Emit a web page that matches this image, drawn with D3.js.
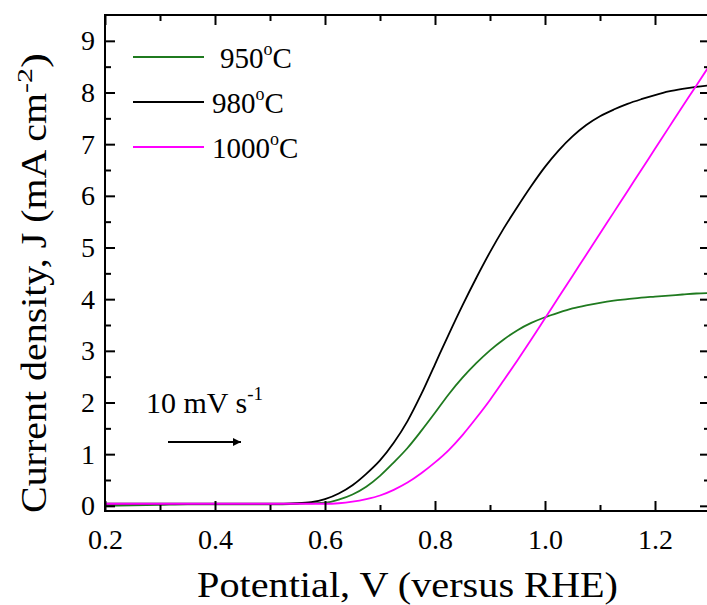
<!DOCTYPE html>
<html><head><meta charset="utf-8">
<script src="https://cdn.jsdelivr.net/npm/d3@7/dist/d3.min.js"></script>
</head>
<body style="margin:0">
<svg id="c" width="707" height="605" font-family="Liberation Serif"></svg>
<script>
// Potential (V vs RHE)
const potential = [0.2,0.25,0.3,0.35,0.4,0.45,0.5,0.55,0.575,0.6,0.625,0.65,0.675,0.7,0.725,0.75,0.775,0.8,0.825,0.85,0.875,0.9,0.925,0.95,0.975,1.0,1.025,1.05,1.075,1.1,1.125,1.15,1.175,1.2,1.225,1.25,1.275,1.3];
// Current density J (mA cm^-2)
const j950  = [0.00,0.01,0.02,0.03,0.03,0.03,0.03,0.04,0.05,0.06,0.12,0.22,0.37,0.58,0.84,1.12,1.45,1.80,2.16,2.48,2.76,3.01,3.22,3.40,3.54,3.65,3.74,3.82,3.88,3.93,3.97,4.00,4.03,4.05,4.07,4.09,4.11,4.12];
const j980  = [0.04,0.04,0.04,0.04,0.04,0.04,0.04,0.05,0.07,0.13,0.24,0.40,0.62,0.88,1.22,1.64,2.16,2.74,3.32,3.88,4.41,4.91,5.37,5.79,6.19,6.56,6.88,7.15,7.37,7.54,7.67,7.78,7.87,7.95,8.02,8.07,8.11,8.14];
const j1000 = [0.04,0.04,0.04,0.04,0.04,0.04,0.04,0.04,0.04,0.04,0.05,0.08,0.13,0.20,0.31,0.45,0.63,0.84,1.08,1.37,1.70,2.05,2.43,2.82,3.22,3.63,4.04,4.45,4.86,5.27,5.68,6.09,6.50,6.91,7.32,7.73,8.13,8.54];
const seriesNames = ["950","980","1000"];
const seriesColors = ["#1f7a1f","#000000","#ff00ff"];
const xMajor = [0.2,0.4,0.6,0.8,1.0,1.2];
const xMinor = [0.3,0.5,0.7,0.9,1.1];
const yMajor = [0,1,2,3,4,5,6,7,8,9];
const yMinor = [0.5,1.5,2.5,3.5,4.5,5.5,6.5,7.5,8.5];

const FAM = "Liberation Serif";
const svg = d3.select("#c");
const L=105, R=710, T=15, B=511;
const x = d3.scaleLinear().domain([0.2,1.3]).range([L,R]);
const y = d3.scaleLinear().domain([-0.1,9.5]).range([B,T]);

const series = [j950,j980,j1000];
const line = d3.line().x(d=>x(d[0])).y(d=>y(d[1])).curve(d3.curveMonotoneX);
series.forEach((s,i)=>{
  svg.append("path").datum(potential.map((v,k)=>[v,s[k]]))
    .attr("d",line).attr("fill","none").attr("stroke",seriesColors[i]).attr("stroke-width",1.8);
});

function styleAxis(g){
  g.attr("font-family",FAM).attr("font-size",28);
  g.selectAll(".domain").remove();
  g.selectAll("line").attr("stroke","#000").attr("stroke-width",2);
  g.selectAll("text").attr("fill","#000").attr("font-family",FAM).style("font-family",`"${FAM}"`);
}
// bottom
svg.append("g").attr("transform",`translate(0,${B})`)
  .call(d3.axisBottom(x).tickValues(xMajor).tickSize(-10).tickPadding(18).tickFormat(d3.format(".1f"))).call(styleAxis);
svg.append("g").attr("transform",`translate(0,${B})`)
  .call(d3.axisBottom(x).tickValues(xMinor).tickSize(-6).tickFormat("")).call(styleAxis);
// top
svg.append("g").attr("transform",`translate(0,${T})`)
  .call(d3.axisTop(x).tickValues(xMajor).tickSize(-10).tickFormat("")).call(styleAxis);
svg.append("g").attr("transform",`translate(0,${T})`)
  .call(d3.axisTop(x).tickValues(xMinor).tickSize(-6).tickFormat("")).call(styleAxis);
// left
svg.append("g").attr("transform",`translate(${L},0)`)
  .call(d3.axisLeft(y).tickValues(yMajor).tickSize(-10).tickPadding(10).tickFormat(d3.format("d"))).call(styleAxis);
svg.append("g").attr("transform",`translate(${L},0)`)
  .call(d3.axisLeft(y).tickValues(yMinor).tickSize(-6).tickFormat("")).call(styleAxis);
// right
svg.append("g").attr("transform",`translate(${R},0)`)
  .call(d3.axisRight(y).tickValues(yMajor).tickSize(-10).tickFormat("")).call(styleAxis);
svg.append("g").attr("transform",`translate(${R},0)`)
  .call(d3.axisRight(y).tickValues(yMinor).tickSize(-6).tickFormat("")).call(styleAxis);

// frame
svg.append("rect").attr("x",L).attr("y",T).attr("width",R-L).attr("height",B-T)
  .attr("fill","none").attr("stroke","#000").attr("stroke-width",2);

function txt(sel){ return sel.attr("font-family",FAM).style("font-family",`"${FAM}"`); }

// axis titles
txt(svg.append("text")).attr("x",197).attr("y",597)
  .attr("font-size",35).attr("textLength",421).attr("lengthAdjust","spacingAndGlyphs")
  .text("Potential, V (versus RHE)");
const yt = txt(svg.append("text")).attr("transform","translate(46,513) rotate(-90)")
  .attr("font-size",35);
yt.append("tspan").attr("textLength",420).attr("lengthAdjust","spacingAndGlyphs").text("Current density, J (mA cm");
yt.append("tspan").attr("font-size",22).attr("dy",-14).attr("textLength",25).attr("lengthAdjust","spacingAndGlyphs").text("-2");
yt.append("tspan").attr("dy",14).attr("textLength",15).attr("lengthAdjust","spacingAndGlyphs").text(")");

// legend
const legY = [57,102,147];
const legTX = [220,212,212];
seriesNames.forEach((n,i)=>{
  svg.append("line").attr("x1",133).attr("x2",204).attr("y1",legY[i]).attr("y2",legY[i])
    .attr("stroke",seriesColors[i]).attr("stroke-width",1.8);
  const t = txt(svg.append("text")).attr("x",legTX[i]).attr("y",legY[i]+11).attr("font-size",29);
  t.append("tspan").text(n);
  t.append("tspan").attr("font-size",18).attr("dy",-13).text("o");
  t.append("tspan").attr("dy",13).text("C");
});

// scan rate annotation
const st = txt(svg.append("text")).attr("x",146).attr("y",413).attr("font-size",30);
st.append("tspan").text("10 mV s");
st.append("tspan").attr("font-size",19).attr("dy",-13).text("-1");
svg.append("defs").append("marker").attr("id","ah").attr("viewBox","0 0 10 10")
  .attr("refX",10).attr("refY",5).attr("markerWidth",12).attr("markerHeight",8)
  .attr("markerUnits","userSpaceOnUse").attr("orient","auto")
  .append("path").attr("d","M0,0L10,5L0,10Z").attr("fill","#000");
svg.append("line").attr("x1",168).attr("x2",241).attr("y1",442).attr("y2",442)
  .attr("stroke","#000").attr("stroke-width",2).attr("marker-end","url(#ah)");
</script></body></html>
